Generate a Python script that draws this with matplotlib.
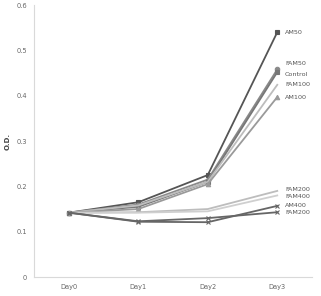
import matplotlib
matplotlib.use("Agg")
import matplotlib.pyplot as plt

days = ["Day0", "Day1", "Day2", "Day3"]

am50 = [0.142, 0.165, 0.225, 0.540]
fam50 = [0.142, 0.160, 0.215, 0.458]
control = [0.142, 0.155, 0.210, 0.452]
fam100 = [0.142, 0.158, 0.210, 0.424]
am100 = [0.142, 0.150, 0.205, 0.397]
fam200_hi = [0.142, 0.143, 0.150, 0.190]
fam400 = [0.142, 0.142, 0.145, 0.180]
am400 = [0.142, 0.122, 0.121, 0.157]
fam200_lo = [0.142, 0.123, 0.130, 0.143]

series = [
    # name, values, color, marker, label offset (pt)
    ("AM50", am50, "#555555", "s", 0),
    ("FAM50", fam50, "#8a8a8a", "o", 4),
    ("Control", control, "#777777", "s", -2),
    ("FAM100", fam100, "#bdbdbd", "", 0),
    ("AM100", am100, "#9a9a9a", "^", 0),
    ("FAM200", fam200_hi, "#bdbdbd", "", 1),
    ("FAM400", fam400, "#cfcfcf", "", -1),
    ("AM400", am400, "#666666", "x", 0),
    ("FAM200", fam200_lo, "#666666", "x", 0),
]

fig = plt.figure(figsize=(3.21, 2.96), dpi=100)
ax = fig.add_axes([0.106, 0.064, 0.866, 0.919])

x = range(len(days))
for name, vals, col, mk, dy in series:
    ax.plot(x, vals, color=col, lw=1.3, marker=mk if mk else None, ms=3.2,
            mew=0.8)
    ax.annotate(name, (3, vals[-1]), xytext=(5.5, dy), textcoords="offset points",
                fontsize=4.6, color="#555555", va="center", ha="left")

ax.set_xlim(-0.5, 3.5)
ax.set_ylim(0, 0.6)
ax.set_xticks(list(x))
ax.set_xticklabels(days)
ax.set_yticks([0, 0.1, 0.2, 0.3, 0.4, 0.5, 0.6])
ax.set_yticklabels(["0", "0.1", "0.2", "0.3", "0.4", "0.5", "0.6"])
ax.tick_params(length=0, labelsize=4.8, labelcolor="#666666", pad=5)
ax.set_ylabel("O.D.", fontsize=5, fontweight="bold", color="#444444", labelpad=4)
for s in ["top", "right"]:
    ax.spines[s].set_visible(False)
for s in ["left", "bottom"]:
    ax.spines[s].set_color("#d9d9d9")
    ax.spines[s].set_linewidth(0.8)

fig.savefig("out.png", dpi=100)
